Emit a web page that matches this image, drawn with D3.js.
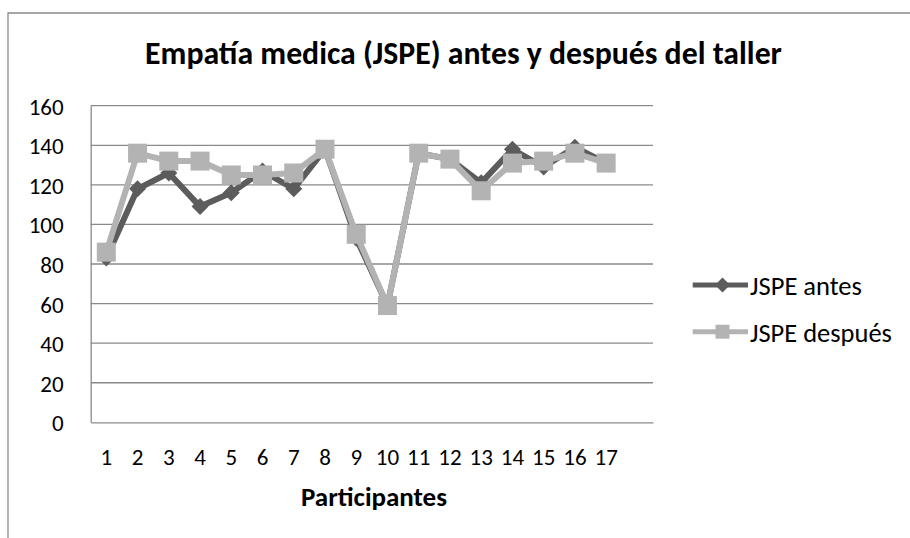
<!DOCTYPE html>
<html><head><meta charset="utf-8">
<script src="https://cdn.jsdelivr.net/npm/d3@7/dist/d3.min.js"></script>
<style>body{margin:0;background:#fff}svg{display:block}text{font-family:Carlito,'Open Sans',sans-serif;fill:#000}</style>
</head><body><svg id="c" width="910" height="538"></svg>
<script>
const categories = ["1","2","3","4","5","6","7","8","9","10","11","12","13","14","15","16","17"];
const antes   = [83,118,126,109,116,127,118,138,93,59,136,133,121,138,129,139,131];
const despues = [86,136,132,132,125,125,126,138,95,59,136,133,117,131,132,136,131];
const yTicks = [0,20,40,60,80,100,120,140,160];
const seriesNames = ["JSPE antes","JSPE después"];
const titleText = "Empatía medica (JSPE) antes y después del taller";
const xTitle = "Participantes";

const svg = d3.select("#c");
const L = 90.7, R = 653, T = 105.7, B = 422.3;
const x = d3.scaleBand().domain(categories.concat([" "])).range([L, R]);
const y = d3.scaleLinear().domain([0,160]).range([B, T]);
const gridC = "#8a8a8a", darkC = "#5c5c5c", lightC = "#b3b3b3";
const FF = "Carlito,'Open Sans',sans-serif";

function fit(sel, w){
  const n = sel.node(); let fs = parseFloat(sel.attr("font-size"));
  const cw = n.getComputedTextLength(); sel.attr("font-size", fs*w/cw);
}

// chart border (top and left visible)
svg.append("path").attr("d", "M8,545 V13 H915").attr("fill","none").attr("stroke",gridC).attr("stroke-width",1.3);

// title
const t = svg.append("text").attr("x",463.5).attr("y",64).attr("text-anchor","middle")
  .attr("font-weight","bold").attr("font-size",26).text(titleText);
fit(t, 637);

// gridlines
svg.append("g").selectAll("line").data(yTicks.filter(v=>v>0)).join("line")
  .attr("x1",L).attr("x2",R).attr("y1",d=>y(d)).attr("y2",d=>y(d))
  .attr("stroke",gridC).attr("stroke-width",1.3);

// axes
const yAxis = svg.append("g").attr("transform",`translate(${L},0)`)
  .call(d3.axisLeft(y).tickValues(yTicks).tickSize(0).tickPadding(27));
yAxis.select(".domain").attr("stroke",gridC).attr("stroke-width",1.3);
yAxis.selectAll("text").attr("font-size",23).attr("dy",0).attr("y",8.5).style("font-family",FF);

const xAxis = svg.append("g").attr("transform",`translate(0,${B})`)
  .call(d3.axisBottom(x).tickSize(0));
xAxis.select(".domain").attr("stroke",gridC).attr("stroke-width",1.3);
xAxis.selectAll("text").attr("font-size",23).attr("dy",0).attr("y",43).style("font-family",FF);

const xt = svg.append("text").attr("x",374).attr("y",506).attr("text-anchor","middle")
  .attr("font-weight","bold").attr("font-size",19).text(xTitle);
fit(xt, 146);

// series
const line = d3.line().x((d,i)=>x(categories[i])+x.bandwidth()/2).y(d=>y(d));
const diamond = (cx,cy,r)=>`M${cx},${cy-r}L${cx+r},${cy}L${cx},${cy+r}L${cx-r},${cy}Z`;
const square = (cx,cy,h)=>`M${cx-h},${cy-h}H${cx+h}V${cy+h}H${cx-h}Z`;

svg.append("path").datum(antes).attr("d",line).attr("fill","none").attr("stroke",darkC).attr("stroke-width",6).attr("stroke-linejoin","round");
svg.append("g").selectAll("path").data(antes).join("path")
  .attr("d",(d,i)=>diamond(x(categories[i])+x.bandwidth()/2, y(d), 8.5)).attr("fill",darkC);

svg.append("path").datum(despues).attr("d",line).attr("fill","none").attr("stroke",lightC).attr("stroke-width",6).attr("stroke-linejoin","round");
svg.append("g").selectAll("path").data(despues).join("path")
  .attr("d",(d,i)=>square(x(categories[i])+x.bandwidth()/2, y(d), 9.5)).attr("fill",lightC);

// legend
const lg = svg.append("g");
const legY = [285, 331.7];
[0,1].forEach(k=>{
  const c = k===0?darkC:lightC;
  lg.append("line").attr("x1",692.7).attr("x2",748).attr("y1",legY[k]).attr("y2",legY[k]).attr("stroke",c).attr("stroke-width",5);
  lg.append("path").attr("d", k===0?diamond(722.5,legY[k],7.5):square(722.5,legY[k],7)).attr("fill",c);
  const tx = lg.append("text").attr("x",750).attr("y",legY[k]+10).attr("font-size",23).text(seriesNames[k]);
  fit(tx, k===0?112:142);
});
</script></body></html>
